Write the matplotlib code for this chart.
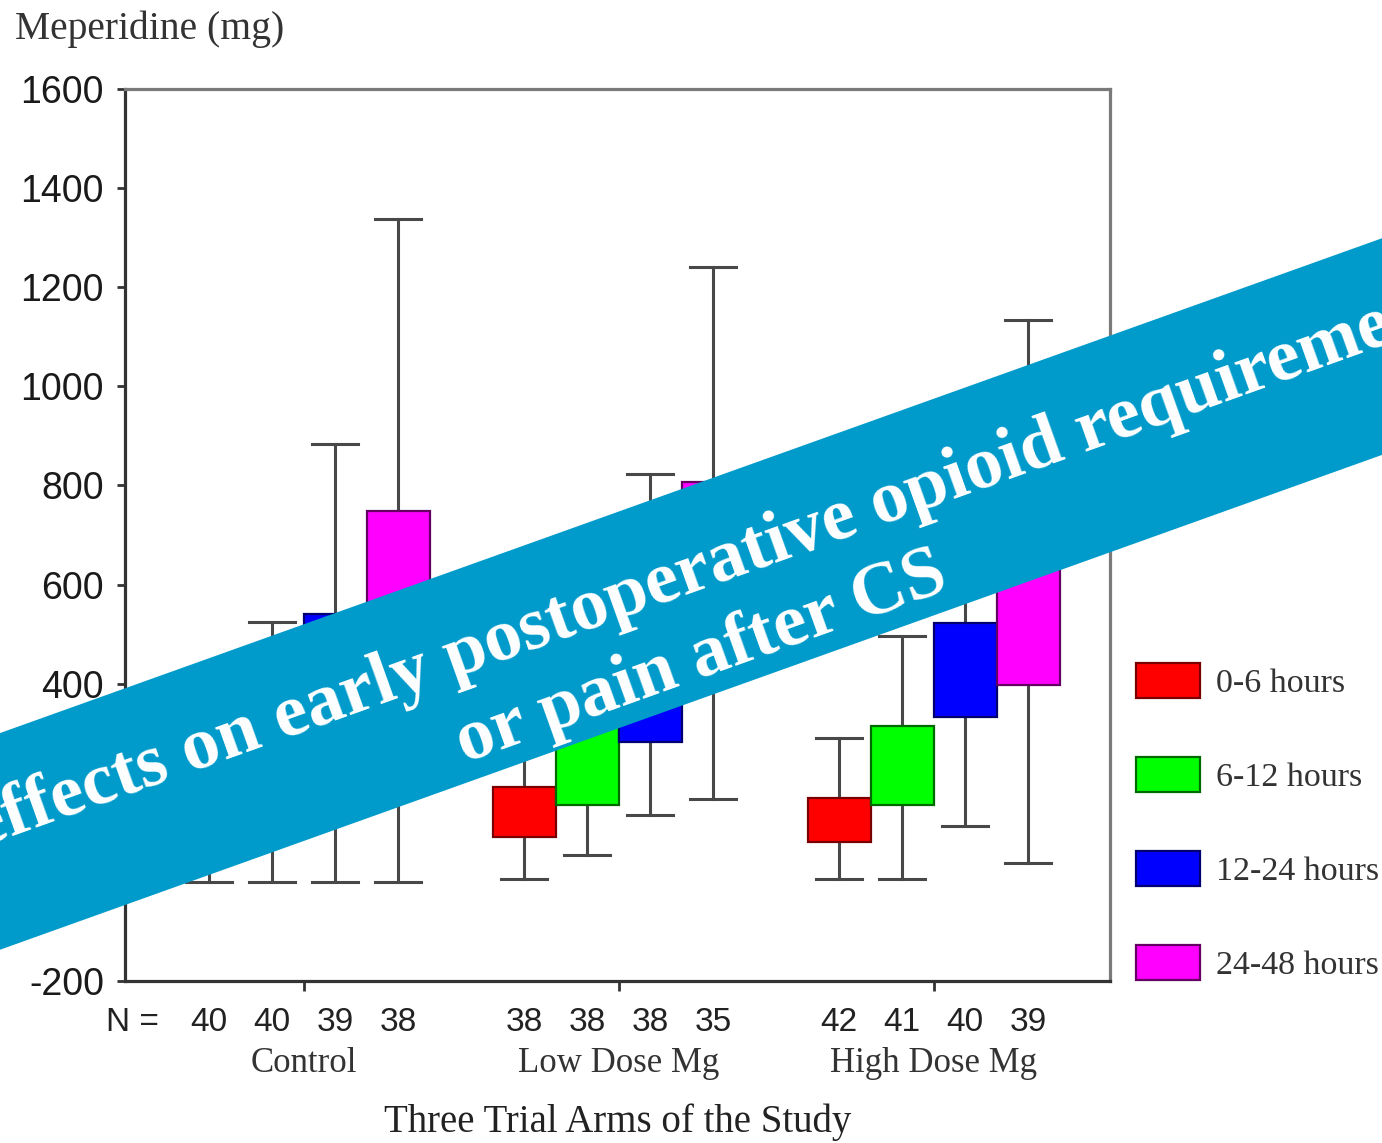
import numpy as np
import matplotlib
matplotlib.use("Agg")
import matplotlib.pyplot as plt
from matplotlib.patches import Patch, Rectangle
from matplotlib.transforms import Affine2D, blended_transform_factory

plt.rcParams["axes.unicode_minus"] = False

# meperidine use per trial arm and time window (mg)
arms = ["Control", "Low Dose Mg", "High Dose Mg"]
periods = ["0-6 hours", "6-12 hours", "12-24 hours", "24-48 hours"]
n_counts = [[40, 40, 39, 38], [38, 38, 38, 35], [42, 41, 40, 39]]

whis_lo = [[0, 0, 0, 0], [5, 54, 135, 167], [6, 6, 113, 38]]
q1_vals = [[50, 100, 250, 300], [91, 155, 283, 420], [81, 155, 333, 398]]
q3_vals = [[200, 300, 541, 749], [192, 420, 580, 807], [170, 315, 523, 680]]
whis_hi = [[420, 525, 884, 1338], [420, 650, 823, 1241], [291, 496, 760, 1134]]

fills = ["#ff0000", "#00ff00", "#0000ff", "#ff00ff"]
edges = ["#7a0000", "#006a00", "#00006e", "#640064"]

box_w = 0.2
offsets = (np.arange(4) - 1.5) * box_w

fig = plt.figure(figsize=(13.82, 11.43), dpi=100)
ax = fig.add_axes([0.0904, 0.1417, 0.7128, 0.7804])

stats, positions, colors = [], [], []
for g in range(3):
    for p in range(4):
        stats.append(dict(whislo=whis_lo[g][p], q1=q1_vals[g][p], med=q1_vals[g][p],
                          q3=q3_vals[g][p], whishi=whis_hi[g][p]))
        positions.append(g + 1 + offsets[p])
        colors.append(p)

bp = ax.bxp(stats, positions=positions, widths=box_w, capwidths=0.145,
            patch_artist=True, showfliers=False,
            whiskerprops=dict(color="#484848", lw=2.2),
            capprops=dict(color="#484848", lw=2.2),
            medianprops=dict(visible=False),
            boxprops=dict(lw=1.6))
for box, c in zip(bp["boxes"], colors):
    box.set_facecolor(fills[c])
    box.set_edgecolor(edges[c])
    box.set_zorder(3)

ax.set_xlim(0.433, 3.56)
ax.set_ylim(-200, 1600)
ax.set_yticks(np.arange(-200, 1601, 200))
ax.tick_params(axis="y", direction="out", length=6, width=2, pad=9,
               labelsize=27, labelcolor="#1a1a1a", color="#333333")
ax.set_xticks([1, 2, 3])
ax.set_xticklabels(["", "", ""])
ax.tick_params(axis="x", direction="out", length=7, width=2, color="#333333")
for t in ax.get_yticklabels():
    t.set_fontfamily("Liberation Sans")

for side in ["left", "bottom"]:
    ax.spines[side].set_color("#333333")
    ax.spines[side].set_linewidth(2.3)
for side in ["top", "right"]:
    ax.spines[side].set_color("#7a7a7a")
    ax.spines[side].set_linewidth(2.3)

# sample sizes and arm names under the axis
trans = blended_transform_factory(ax.transData, ax.transAxes)
ax.text(0.008, -0.047, "N =", transform=ax.transAxes, ha="center", va="center",
        fontsize=24, family="Liberation Sans", color="#222222")
for g in range(3):
    for p in range(4):
        ax.text(g + 1 + offsets[p], -0.047, str(n_counts[g][p]), transform=trans,
                ha="center", va="center", fontsize=24, family="Liberation Sans",
                color="#222222")
    ax.text(g + 1, -0.092, arms[g], transform=trans, ha="center", va="center",
            fontsize=25, family="Liberation Serif", color="#333333")
ax.text(0.5, -0.158, "Three Trial Arms of the Study", transform=ax.transAxes,
        ha="center", va="center", fontsize=28, family="Liberation Serif",
        color="#222222")
fig.text(0.011, 0.974, "Meperidine (mg)", ha="left", va="center", fontsize=28.5,
         family="Liberation Serif", color="#333333")

handles = [Patch(facecolor=fills[i], edgecolor=edges[i], lw=1.6) for i in range(4)]
leg = fig.legend(handles, periods, loc="upper left", bbox_to_anchor=(0.8095, 0.4345),
                 frameon=False, handlelength=1.9, handleheight=1.2,
                 labelspacing=1.7, handletextpad=0.45, borderpad=0,
                 prop=dict(family="Liberation Serif", size=24.5))
for t in leg.get_texts():
    t.set_color("#333333")

# diagonal banner across the plot
cx, cy, ang = 691, 549, 19.7
band = Rectangle((cx - 1200, cy - 102), 2400, 204, facecolor="#019bcb",
                 edgecolor="none", transform=Affine2D().rotate_deg_around(cx, cy, ang),
                 zorder=10)
fig.add_artist(band)
banner_kw = dict(rotation=ang, rotation_mode="anchor", ha="center", va="center",
                 fontsize=54, fontweight="bold", family="Liberation Serif",
                 color="white", zorder=11)
fig.text(0.5159, 0.5048, "effects on early postoperative opioid requirement", **banner_kw)
fig.text(0.5075, 0.4234, "or pain after CS", **banner_kw)

fig.savefig("out.png", dpi=100)
